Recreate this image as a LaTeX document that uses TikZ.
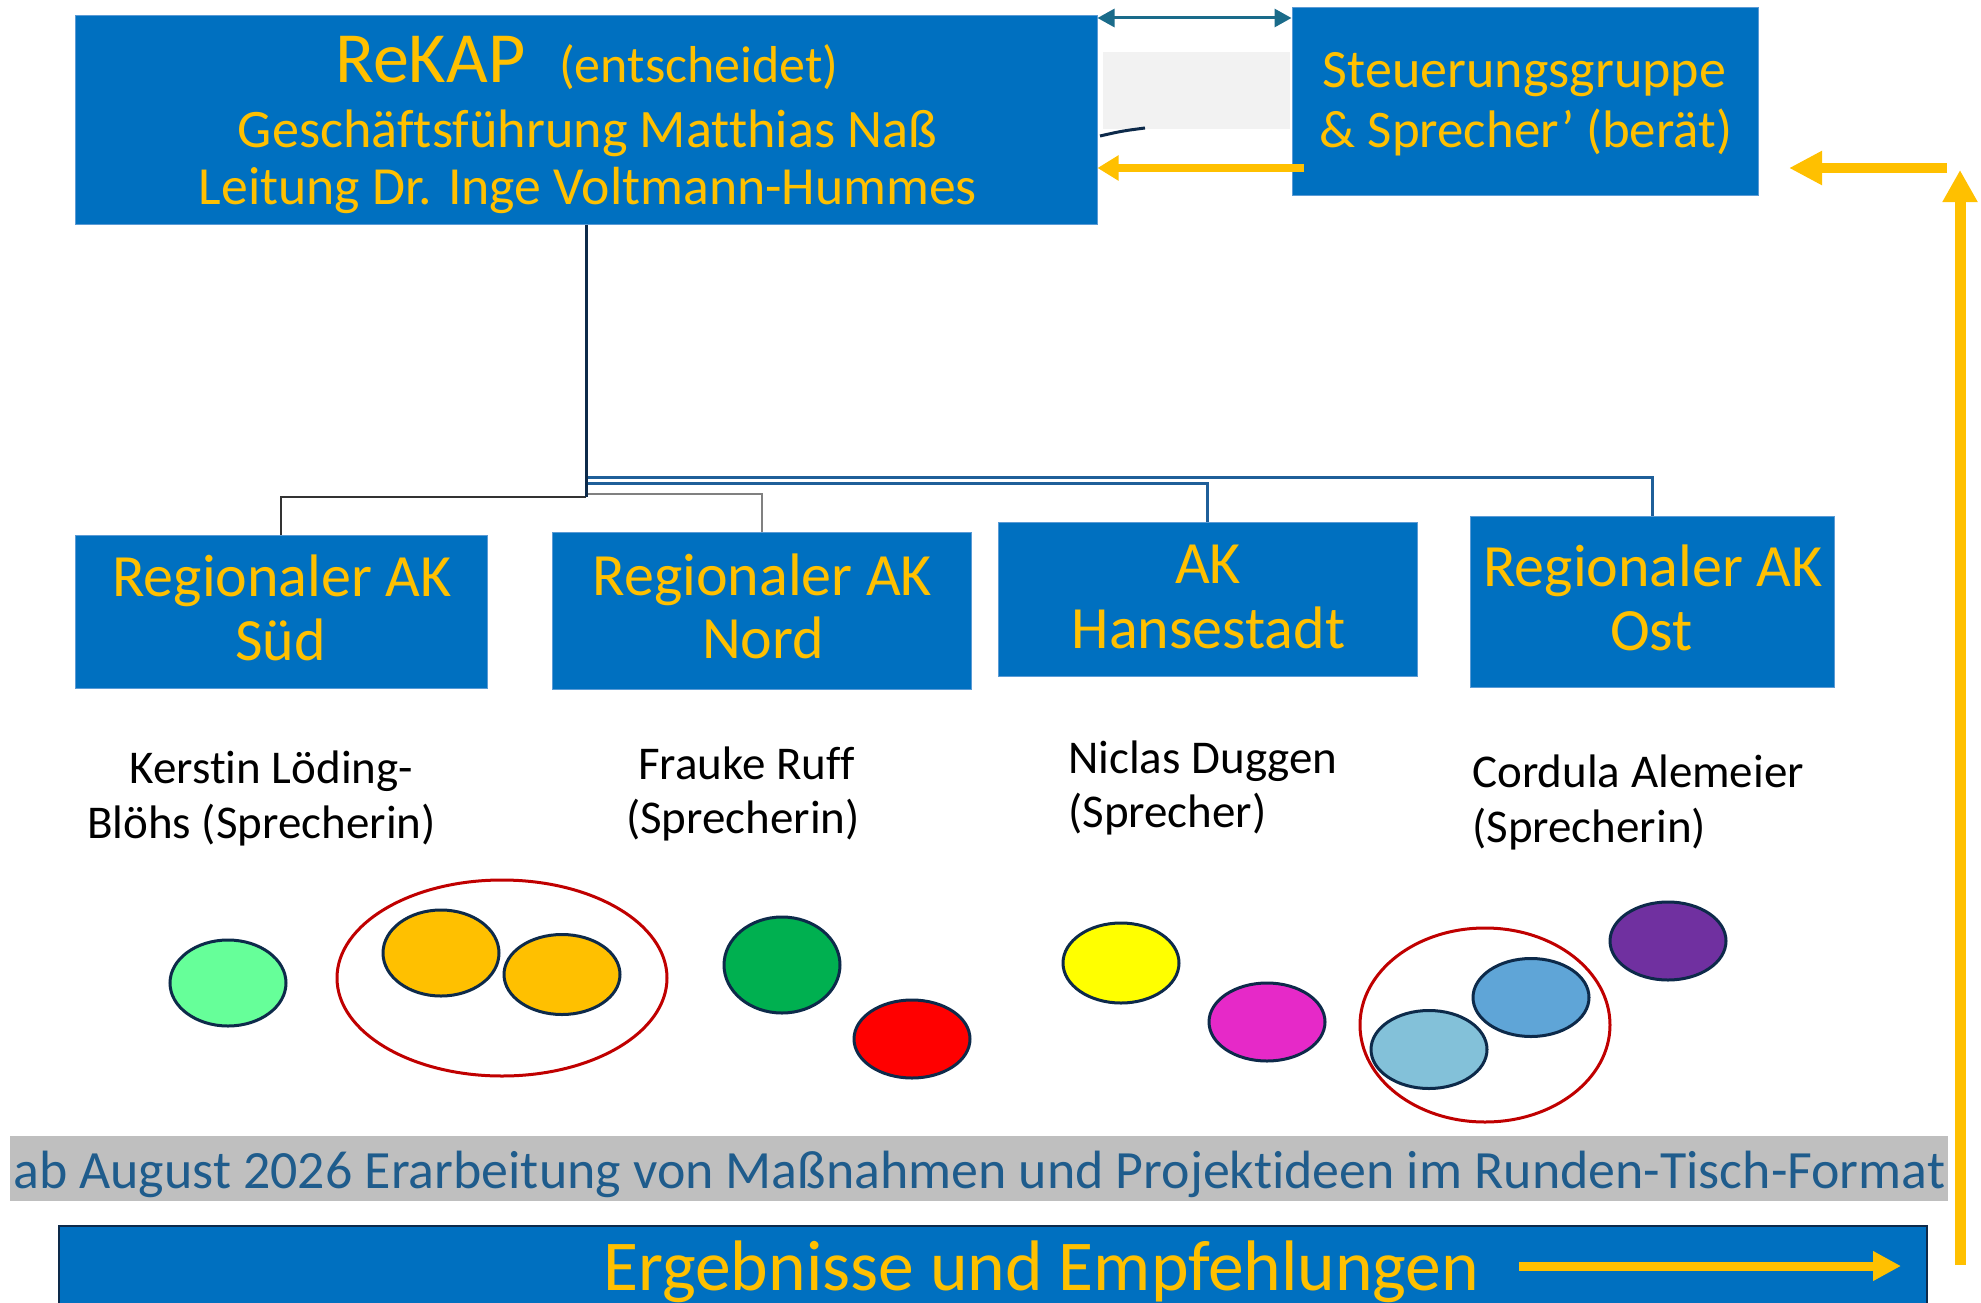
\documentclass[tikz,border=0pt]{standalone}
\usepackage{fontspec}
\setmainfont[Ligatures={TeX,NoCommon}]{Carlito}
\usepackage{graphicx}
\usetikzlibrary{arrows.meta}
\definecolor{boxblue}{HTML}{0070C0}
\definecolor{boxedge}{HTML}{5B9BD5}
\definecolor{gold}{HTML}{FFC000}
\definecolor{navy}{HTML}{0D2A4A}
\definecolor{linkblue}{HTML}{1F5F99}
\definecolor{tealdark}{HTML}{1A6B8A}
\definecolor{bandgray}{HTML}{BFBFBF}
\definecolor{bandtext}{HTML}{1F5C8C}
\definecolor{ringred}{HTML}{C00000}
\definecolor{palegray}{HTML}{F2F2F2}
\definecolor{cLgreen}{HTML}{66FF99}
\definecolor{cOrange}{HTML}{FFC000}
\definecolor{cGreen}{HTML}{00B050}
\definecolor{cRed}{HTML}{FF0000}
\definecolor{cYellow}{HTML}{FFFF00}
\definecolor{cMagenta}{HTML}{E629C8}
\definecolor{cLblue}{HTML}{83C1D9}
\definecolor{cMblue}{HTML}{5FA5D7}
\definecolor{cPurple}{HTML}{7030A0}
\newcommand{\fitw}[2]{\resizebox{#1pt}{!}{#2}}
\begin{document}
\begin{tikzpicture}[x=1pt,y=-1pt,
  box/.style={draw=boxedge, line width=1pt, fill=boxblue, inner sep=0pt},
  txt/.style={inner sep=0pt, anchor=base, text=gold},
  boxlabel/.style={txt, font=\fontsize{60}{72}\selectfont},
  namelabel/.style={inner sep=0pt, anchor=base, text=black, font=\fontsize{47}{56}\selectfont},
  dot/.style={draw=navy, line width=3pt},
  ring/.style={draw=ringred, line width=3pt},
  mainline/.style={draw=navy, line width=3pt},
  blueline/.style={draw=linkblue, line width=3pt},
  grayline/.style={draw=black!50, line width=2pt},
  darkline/.style={draw=black!80, line width=2pt},
  yarrow/.style={draw=gold, line width=8pt, -{Triangle[length=21pt,width=24pt]}},
  ybig/.style={draw=gold, line width=10pt, -{Triangle[length=33pt,width=32pt]}},
  dblarrow/.style={draw=tealdark, line width=3pt, {Triangle[length=17pt,width=18pt]}-{Triangle[length=17pt,width=18pt]}}
]
\useasboundingbox (0,0) rectangle (1981,1303);
\fill[white] (0,0) rectangle (1981,1303);
\clip (0,0) rectangle (1981,1303);

% boxes
\node[box, minimum width=1022pt, minimum height=208pt] (rekap) at (586,120) {};
\node[box, minimum width=466pt, minimum height=187pt] (steuer) at (1525,101.5) {};
\node[box, minimum width=412pt, minimum height=153pt] (sud) at (281,611.5) {};
\node[box, minimum width=419pt, minimum height=157pt] (nord) at (761.5,610.5) {};
\node[box, minimum width=419pt, minimum height=154pt] (hanse) at (1207.5,599) {};
\node[box, minimum width=364pt, minimum height=171pt] (ost) at (1652,601.5) {};
\fill[palegray] (1103,52) rectangle (1290,129);
\node[fill=bandgray, inner sep=0pt, minimum width=1938pt, minimum height=65pt] (band) at (979,1168.5) {};
\node[draw=navy, line width=2pt, fill=boxblue, inner sep=0pt, minimum width=1868pt, minimum height=90pt] (ergeb) at (993,1271) {};

% texts in top boxes
\node[txt, anchor=base west] (t1) at (335,83) {\fitw{190}{ReKAP}};
\node[txt, anchor=base west] (t2) at (559,83) {\fitw{279}{(entscheidet)}};
\node[txt] (t3) at (587.5,147) {\fitw{699}{Geschäftsführung Matthias Naß}};
\node[txt] (t4) at (588,204) {\fitw{778}{Leitung Dr. Inge Voltmann-Hummes}};
\node[txt] (t5) at (1524.5,88) {\fitw{403}{Steuerungsgruppe}};
\node[txt] (t6) at (1526,147) {\fitw{412}{\& Sprecher’ (berät)}};

% box labels
\node[boxlabel] (l1) at (282,596) {Regionaler AK};
\node[boxlabel] (l2) at (280.5,660) {Süd};
\node[boxlabel] (l3) at (762.5,595) {Regionaler AK};
\node[boxlabel] (l4) at (763,658) {Nord};
\node[boxlabel] (l5) at (1208,583) {AK};
\node[boxlabel] (l6) at (1208.5,648) {Hansestadt};
\node[boxlabel] (l7) at (1653,586) {Regionaler AK};
\node[boxlabel] (l8) at (1651.5,650) {Ost};

% names
\node[namelabel] (n1) at (271.5,783) {Kerstin Löding-};
\node[namelabel] (n2) at (261.5,838) {Blöhs (Sprecherin)};
\node[namelabel] (n3) at (746.5,779) {Frauke Ruff};
\node[namelabel] (n4) at (743,833) {(Sprecherin)};
\node[namelabel, anchor=base west] (n5) at (1068,773) {Niclas Duggen};
\node[namelabel, anchor=base west] (n6) at (1068,827) {(Sprecher)};
\node[namelabel, anchor=base west] (n7) at (1472,787) {Cordula Alemeier};
\node[namelabel, anchor=base west] (n8) at (1472,842) {(Sprecherin)};

% band and bottom texts
\node[inner sep=0pt, anchor=base west, text=bandtext] (bt) at (13,1188) {\fitw{1932}{ab August 2026 Erarbeitung von Maßnahmen und Projektideen im Runden-Tisch-Format}};
\node[txt, anchor=base west] (et) at (603,1290) {\fitw{876}{Ergebnisse und Empfehlungen}};

% connectors
\path (rekap.south) ++(0,272) coordinate (jS);
\path (rekap.south) ++(0,269) coordinate (jN);
\path (rekap.south) ++(0,259) coordinate (jH);
\path (rekap.south) ++(0,253) coordinate (jO);
\draw[blueline] (jO) -| (ost.north);
\draw[blueline] (jH) -| (hanse.north);
\draw[grayline] (jN) -| (nord.north);
\draw[darkline] (jS) -| (sud.north);
\draw[mainline] (rekap.south) -- (jS);

% arrows at top
\coordinate (dA) at (1200,18);
\draw[dblarrow] (rekap.east |- dA) -- (steuer.west |- dA);
\coordinate (sA) at (1304,168);
\draw[yarrow] (sA) -- (rekap.east |- sA);
\draw[navy, line width=3pt] (1100,136) .. controls (1122,131) .. (1145,128);

% feedback arrows
\coordinate (fb1) at (1960,1265);
\coordinate (fb2) at (1960,170);
\draw[draw=gold, line width=11pt, -{Triangle[length=32pt,width=33pt]}] (fb1) -- (fb2);
\coordinate (fb3) at (1947,168);
\coordinate (fb4) at (1789,168);
\draw[ybig] (fb3) -- (fb4);
\coordinate (ea) at (1519,1266);
\coordinate (eb) at (1901,1266);
\draw[draw=gold, line width=9pt, -{Triangle[length=28pt,width=28pt]}] (ea) -- (eb);

% groups of participants
\draw[dot, fill=cLgreen] (228,983) ellipse [x radius=58, y radius=43];
\draw[ring] (502,978) ellipse [x radius=165, y radius=98];
\draw[dot, fill=cOrange] (441,953) ellipse [x radius=58, y radius=43];
\draw[dot, fill=cOrange] (562,974.5) ellipse [x radius=58, y radius=40];
\draw[dot, fill=cGreen] (782,965) ellipse [x radius=58, y radius=48];
\draw[dot, fill=cRed] (912,1039) ellipse [x radius=58, y radius=39];
\draw[dot, fill=cYellow] (1121,963) ellipse [x radius=58, y radius=40];
\draw[dot, fill=cMagenta] (1267,1022) ellipse [x radius=58, y radius=39];
\draw[ring] (1485,1025) ellipse [x radius=125, y radius=97];
\draw[dot, fill=cLblue] (1429,1049.5) ellipse [x radius=58, y radius=39];
\draw[dot, fill=cMblue] (1531,997.5) ellipse [x radius=58, y radius=39];
\draw[dot, fill=cPurple] (1668,941) ellipse [x radius=58, y radius=39];
\end{tikzpicture}
\end{document}
